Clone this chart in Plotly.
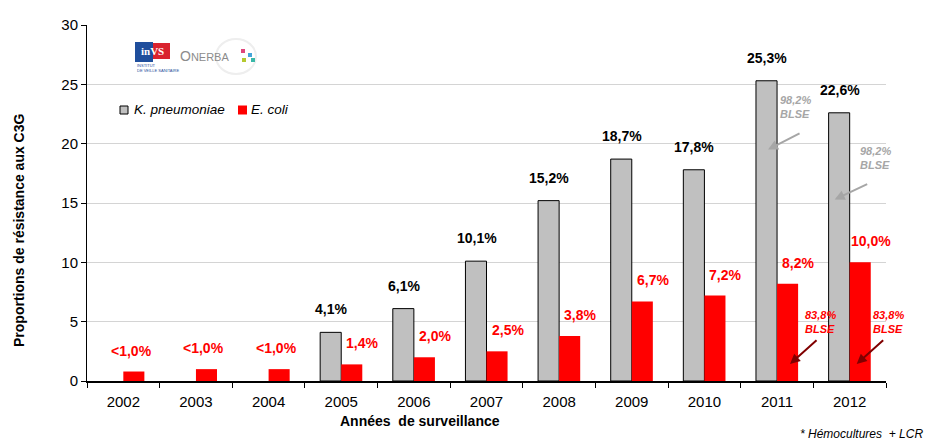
import plotly.graph_objects as go

years = ["2002", "2003", "2004", "2005", "2006", "2007", "2008", "2009", "2010", "2011", "2012"]
kpneu = [None, None, None, 4.1, 6.1, 10.1, 15.2, 18.7, 17.8, 25.3, 22.6]
ecoli = [0.8, 1.0, 1.0, 1.4, 2.0, 2.5, 3.8, 6.7, 7.2, 8.2, 10.0]
kpneu_labels = ["", "", "", "4,1%", "6,1%", "10,1%", "15,2%", "18,7%", "17,8%", "25,3%", "22,6%"]
ecoli_labels = ["<1,0%", "<1,0%", "<1,0%", "1,4%", "2,0%", "2,5%", "3,8%", "6,7%", "7,2%", "8,2%", "10,0%"]
series_names = ["K. pneumoniae", "E. coli"]
y_ticks = [0, 5, 10, 15, 20, 25, 30]

FONT = "Liberation Sans, Arial, sans-serif"
GRAY = "#c0c0c0"
RED = "#ff0000"

fig = go.Figure()
fig.add_trace(go.Bar(x=years, y=kpneu, name=series_names[0], showlegend=False,
                     marker=dict(color=GRAY, line=dict(color="#000000", width=1))))
fig.add_trace(go.Bar(x=years, y=ecoli, name=series_names[1], showlegend=False,
                     marker=dict(color=RED, line=dict(color=RED, width=0))))

def idx(yr):
    return years.index(yr)

ann = []
for yr, v, t in zip(years, kpneu, kpneu_labels):
    if v is None:
        continue
    ann.append(dict(x=idx(yr), y=v, text="<b>" + t + "</b>", showarrow=False,
                    xanchor="center", yanchor="middle",
                    xshift=-10, yshift=23, font=dict(family=FONT, size=14, color="#000000")))
for yr, v, t in zip(years, ecoli, ecoli_labels):
    ann.append(dict(x=idx(yr), y=v, text="<b>" + t + "</b>", showarrow=False,
                    xanchor="center", yanchor="middle",
                    xshift=8 if t.startswith("<") else 21, yshift=21,
                    font=dict(family=FONT, size=14, color=RED)))

# BLSE notes
def note(yr, y, xs, text, color):
    return dict(x=idx(yr), y=y, xshift=xs, text=text, showarrow=False, align="left",
                xanchor="center", yanchor="middle",
                font=dict(family=FONT, size=11, color=color))

def arrow(yr, y, xs, ax, ay, color):
    return dict(x=idx(yr), y=y, xshift=xs, text="", showarrow=True, ax=ax, ay=ay,
                arrowhead=2, arrowsize=1, arrowwidth=2, arrowcolor=color)

gtxt = "<b><i>98,2%</i></b><br><b><i>BLSE</i></b>"
rtxt = "<b><i>83,8%</i></b><br><b><i>BLSE</i></b>"
ann += [
    note("2011", 23.1, 18, gtxt, "#a6a6a6"),
    arrow("2011", 19.5, -9, 33, -17, "#a6a6a6"),
    note("2012", 18.8, 26, gtxt, "#a6a6a6"),
    arrow("2012", 15.3, -15, 34, -16, "#a6a6a6"),
    note("2011", 4.97, 43, rtxt, RED),
    arrow("2011", 1.43, 13, 28, -25, "#800000"),
    note("2012", 4.97, 39, rtxt, RED),
    arrow("2012", 1.43, 7, 28, -25, "#800000"),
]

# pixel -> paper helpers for non-data decorations
L, R_, T, B = 87, 886, 25, 381
def px(x):
    return (x - L) / (R_ - L)
def py(y):
    return (B - y) / (B - T)

def ptext(x, y, text, size, color="#000000", xanchor="center", angle=0, family=FONT, align="center"):
    return dict(x=px(x), y=py(y), xref="paper", yref="paper", showarrow=False, text=text,
                xanchor=xanchor, yanchor="middle", textangle=angle, align=align,
                font=dict(family=family, size=size, color=color))

# Axis titles & footnote
ann += [
    ptext(420, 421, "<b>Années  de surveillance</b>", 14),
    ptext(19, 230, "<b>Proportions de résistance aux C3G</b>", 14, angle=-90),
    ptext(925, 434, "<i>* Hémocultures  + LCR</i>", 12, xanchor="right"),
]

# Legend (drawn manually to match compact layout)
shapes = [
    dict(type="rect", xref="paper", yref="paper", x0=px(120), x1=px(128), y0=py(114), y1=py(106),
         fillcolor=GRAY, line=dict(color="#000000", width=1)),
    dict(type="rect", xref="paper", yref="paper", x0=px(238), x1=px(247), y0=py(114.5), y1=py(105.5),
         fillcolor=RED, line=dict(width=0)),
]
ann += [
    ptext(132, 110, "<i>" + series_names[0] + "</i>", 13.5, xanchor="left"),
    ptext(249, 110, "<i>" + series_names[1] + "</i>", 13.5, xanchor="left"),
]

# Logo approximations
shapes += [
    dict(type="rect", xref="paper", yref="paper", x0=px(135), x1=px(153), y0=py(62), y1=py(42),
         fillcolor="#1f4e9c", line=dict(width=0)),
    dict(type="rect", xref="paper", yref="paper", x0=px(153), x1=px(170), y0=py(59), y1=py(43),
         fillcolor="#d9232e", line=dict(width=0)),
    dict(type="circle", xref="paper", yref="paper", x0=px(216), x1=px(256), y0=py(74), y1=py(39),
         fillcolor="rgba(0,0,0,0)", line=dict(color="#eeeeee", width=2)),
]
dots = [(243, 51, "#e0457b"), (250, 55, "#45a5d8"), (244, 60, "#b5c930"), (253, 60, "#39b8a8")]
for dx, dy, c in dots:
    shapes.append(dict(type="rect", xref="paper", yref="paper", x0=px(dx - 2), x1=px(dx + 2),
                       y0=py(dy + 2), y1=py(dy - 2), fillcolor=c, line=dict(width=0)))
ann += [
    ptext(152, 51, "<b>inVS</b>", 11, color="#ffffff", family="Liberation Serif, serif"),
    ptext(135, 68, "INSTITUT<br>DE VEILLE SANITAIRE", 4, color="#1f4e9c", xanchor="left", align="left"),
    ptext(178, 56, "O<span style='font-size:11px'>NERBA</span>", 14, color="#8c8c8c", xanchor="left"),
]

fig.update_layout(
    width=927, height=440,
    margin=dict(l=L, r=927 - R_, t=T, b=440 - B),
    paper_bgcolor="#ffffff", plot_bgcolor="#ffffff",
    barmode="group", bargap=0.42, bargroupgap=0,
    font=dict(family=FONT, size=15, color="#000000"),
    showlegend=False,
    xaxis=dict(type="category", categoryorder="array", categoryarray=years,
               range=[-0.5, len(years) - 0.5],
               showline=True, linecolor="#000000", linewidth=2, ticks="outside",
               tickson="boundaries", ticklen=5, tickcolor="#000000", showgrid=False,
               ticklabelstandoff=6,
               tickfont=dict(family=FONT, size=15, color="#000000")),
    yaxis=dict(range=[0, 30], tickvals=y_ticks, showline=True, linecolor="#000000", linewidth=1,
               ticks="outside", ticklen=5, tickcolor="#000000", showgrid=True,
               gridcolor="#d4d4d4", gridwidth=1, zeroline=False,
               tickfont=dict(family=FONT, size=15, color="#000000")),
    annotations=ann, shapes=shapes,
)

fig.write_html("out.html")
